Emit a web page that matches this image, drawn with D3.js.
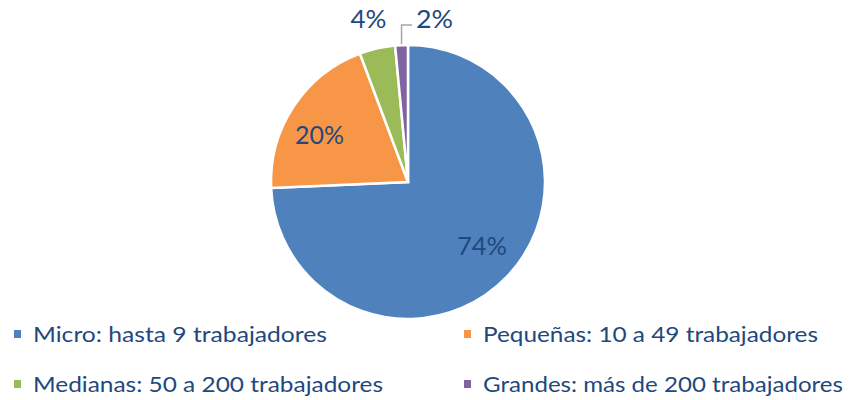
<!DOCTYPE html>
<html><head><meta charset="utf-8">
<script src="https://cdn.jsdelivr.net/npm/d3@7"></script>
<style>body{margin:0;background:#fff}svg{display:block}</style>
</head><body>
<svg id="c" width="853" height="400"></svg>
<script>
const categories = ["Micro: hasta 9 trabajadores","Pequeñas: 10 a 49 trabajadores","Medianas: 50 a 200 trabajadores","Grandes: más de 200 trabajadores"];
const values = [74.3, 20.0, 4.2, 1.5];
const labels = ["74%","20%","4%","2%"];
const colors = ["#4F81BD","#F79646","#9BBB59","#8064A2"];

const svg = d3.select("#c");
const font = "Lato, 'Open Sans', sans-serif";
const textColor = "#1F497D";
const cx = 408, cy = 182, r = 137;

const pie = d3.pie().sort(null).value(d => d)(values);
const arc = d3.arc().innerRadius(0).outerRadius(r);
const g = svg.append("g").attr("transform", `translate(${cx},${cy})`);
g.selectAll("path").data(pie).join("path")
  .attr("d", arc).attr("fill", (d,i) => colors[i])
  .attr("stroke", "#fff").attr("stroke-width", 2.5).attr("stroke-linejoin","miter");

// inside labels
const inArc = d3.arc().innerRadius(r*0.62).outerRadius(r*0.62);
const labelPos = [
  {x: 482, y: 255, w: 50},
  {x: 319.5, y: 144, w: 49},
  {x: 368.5, y: 28, w: 36},
  {x: 434.5, y: 28, w: 37}
];
svg.selectAll("text.lbl").data(labels).join("text").attr("class","lbl")
  .attr("x", (d,i) => labelPos[i].x).attr("y", (d,i) => labelPos[i].y)
  .attr("text-anchor","middle").attr("font-family", font).attr("font-size", 25)
  .attr("fill", textColor)
  .attr("textLength", (d,i) => labelPos[i].w).attr("lengthAdjust","spacingAndGlyphs")
  .text(d => d);

// leader line for small slice
const p = pie[3];
const mid = (p.startAngle + p.endAngle)/2;
const ex = cx + Math.sin(mid)*r, ey = cy - Math.cos(mid)*r;
svg.append("path")
  .attr("d", `M${ex},${ey - 1}L${ex},${25}L${412},${25}`)
  .attr("fill","none").attr("stroke","#A6A6A6").attr("stroke-width",1.5);

// legend
const leg = [
  {x: 14, y: 342, w: 294},
  {x: 464, y: 342, w: 335},
  {x: 14, y: 392, w: 350},
  {x: 464, y: 392, w: 360}
];
const lg = svg.selectAll("g.leg").data(categories).join("g").attr("class","leg")
  .attr("transform", (d,i) => `translate(${leg[i].x},${leg[i].y})`);
lg.append("rect").attr("x",0).attr("y",-12).attr("width",7).attr("height",8)
  .attr("fill", (d,i) => colors[i]);
lg.append("text").attr("x",19).attr("y",0)
  .attr("font-family", font).attr("font-size", 21).attr("fill", textColor)
  .attr("textLength", (d,i) => leg[i].w).attr("lengthAdjust","spacingAndGlyphs")
  .text(d => d);
</script>
</body></html>
